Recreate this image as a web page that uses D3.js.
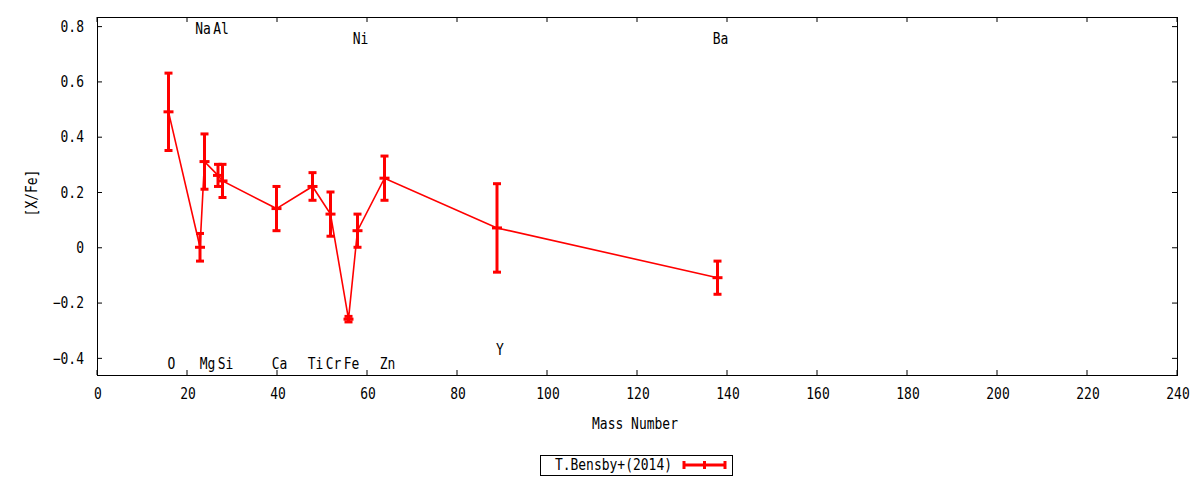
<!DOCTYPE html>
<html>
<head>
<meta charset="utf-8">
<script src="https://cdn.jsdelivr.net/npm/d3@7"></script>
<style>
  html, body { margin: 0; padding: 0; background: #fff; }
  svg text { font-family: "DejaVu Sans Mono", monospace; font-size: 15px; fill: #000; }
</style>
</head>
<body>
<svg id="chart" width="1200" height="480"></svg>
<script>
// ---- data ----
const elements = ["O", "Na", "Mg", "Al", "Si", "Ca", "Ti", "Cr", "Fe", "Ni", "Zn", "Y", "Ba"];
const massNumbers = [16, 23, 24, 27, 28, 40, 48, 52, 56, 58, 64, 89, 138];
const abundances = [0.49, 0.00, 0.31, 0.26, 0.24, 0.14, 0.22, 0.12, -0.26, 0.06, 0.25, 0.07, -0.11];
const errors = [0.14, 0.05, 0.10, 0.04, 0.06, 0.08, 0.05, 0.08, 0.01, 0.06, 0.08, 0.16, 0.06];
const labelY = [-0.42, 0.79, -0.42, 0.79, -0.42, -0.42, -0.42, -0.42, -0.42, 0.755, -0.42, -0.37, 0.755];
const xTicks = [0, 20, 40, 60, 80, 100, 120, 140, 160, 180, 200, 220, 240];
const yTicks = [-0.4, -0.2, 0, 0.2, 0.4, 0.6, 0.8];
const seriesName = "T.Bensby+(2014)";
const xTitle = "Mass Number";
const yTitle = "[X/Fe]";

(function () {
// ---- layout ----
const pL = 97, pR = 1177, pT = 17, pB = 375;
const SX = 0.865; // horizontal squeeze to mimic gnuplot's narrow mono font
const svg = d3.select("#chart");
const x = d3.scaleLinear().domain([0, 240]).range([pL - 0.5, pR - 0.5]);
const y = d3.scaleLinear().domain([-0.462, 0.833]).range([pB, pT]);
const red = "#ff0000";

const fmt = v => (Math.abs(v) < 1e-9 ? "0" : d3.format(".1f")(v));
const place = (sel, fx, fy, rot) => sel
  .attr("x", null).attr("y", null)
  .attr("transform", (d, i) => `translate(${fx(d, i)},${fy(d, i)})${rot ? ` rotate(${rot})` : ""} scale(${SX},1)`);

// axes (ticks inward, mirrored)
const gB = svg.append("g").attr("transform", `translate(0,${pB})`)
  .call(d3.axisBottom(x).tickValues(xTicks).tickSizeInner(-5).tickSizeOuter(0).tickFormat(d3.format("d")))
  .call(g => g.select(".domain").remove());
svg.append("g").attr("transform", `translate(0,${pT})`)
  .call(d3.axisTop(x).tickValues(xTicks).tickSizeInner(-5).tickSizeOuter(0).tickFormat(""))
  .call(g => g.select(".domain").remove());
const gL = svg.append("g").attr("transform", `translate(${pL},0)`)
  .call(d3.axisLeft(y).tickValues(yTicks).tickSizeInner(-5).tickSizeOuter(0).tickFormat(fmt))
  .call(g => g.select(".domain").remove());
svg.append("g").attr("transform", `translate(${pR},0)`)
  .call(d3.axisRight(y).tickValues(yTicks).tickSizeInner(-5).tickSizeOuter(0).tickFormat(""))
  .call(g => g.select(".domain").remove());
svg.selectAll(".tick line").attr("stroke", "#000");
svg.selectAll(".tick text").attr("font-family", null).attr("font-size", null)
  .style("font-family", "'DejaVu Sans Mono', monospace").style("font-size", "15px").attr("dy", "0.35em");
gB.selectAll(".tick text").call(place, () => 1, () => 19);
gL.selectAll(".tick text").call(place, () => -13, () => 0);
svg.selectAll(".tick").attr("font-family", null);
gB.attr("font-family", null).attr("font-size", null);
gL.attr("font-family", null).attr("font-size", null);

svg.append("rect").attr("x", pL + 0.5).attr("y", pT + 0.5)
  .attr("width", pR - pL).attr("height", pB - pT)
  .attr("fill", "none").attr("stroke", "#000").attr("stroke-width", 1);

// element labels
svg.append("g").selectAll("text").data(elements).join("text")
  .attr("dy", "0.35em")
  .attr("text-anchor", "middle")
  .text(d => d)
  .call(place, (d, i) => x(massNumbers[i]) + 3, (d, i) => y(labelY[i]));

// data
const pts = massNumbers.map((m, i) => ({ m, v: abundances[i], e: errors[i] }));
svg.append("path").datum(pts)
  .attr("fill", "none").attr("stroke", red).attr("stroke-width", 1.6)
  .attr("d", d3.line().x(d => x(d.m)).y(d => y(d.v)));

const eb = svg.append("g").attr("stroke", red).attr("stroke-width", 3);
eb.selectAll(".bar").data(pts).join("line").attr("class", "bar")
  .attr("x1", d => x(d.m)).attr("x2", d => x(d.m))
  .attr("y1", d => y(d.v + d.e)).attr("y2", d => y(d.v - d.e));
eb.selectAll(".capT").data(pts).join("line").attr("class", "capT")
  .attr("x1", d => x(d.m) - 4).attr("x2", d => x(d.m) + 4)
  .attr("y1", d => y(d.v + d.e)).attr("y2", d => y(d.v + d.e));
eb.selectAll(".capB").data(pts).join("line").attr("class", "capB")
  .attr("x1", d => x(d.m) - 4).attr("x2", d => x(d.m) + 4)
  .attr("y1", d => y(d.v - d.e)).attr("y2", d => y(d.v - d.e));
eb.selectAll(".mid").data(pts).join("line").attr("class", "mid")
  .attr("x1", d => x(d.m) - 5).attr("x2", d => x(d.m) + 5)
  .attr("y1", d => y(d.v)).attr("y2", d => y(d.v));

// titles
svg.append("text").datum(xTitle).attr("dy", "0.35em")
  .attr("text-anchor", "middle").text(d => d)
  .call(place, () => (pL + pR) / 2 - 2, () => 424);
svg.append("text").datum(yTitle).attr("dy", "0.35em")
  .attr("text-anchor", "middle").text(d => d)
  .call(place, () => 32, () => 193, -90);

// legend
const lg = svg.append("g");
lg.append("rect").attr("x", 540.5).attr("y", 455.5).attr("width", 192).attr("height", 20)
  .attr("fill", "none").attr("stroke", "#000");
lg.append("text").datum(seriesName).attr("dy", "0.35em").attr("text-anchor", "end").text(d => d)
  .call(place, () => 672, () => 465);
const lx1 = 683, lx2 = 726, ly = 465;
lg.append("line").attr("x1", lx1).attr("x2", lx2).attr("y1", ly).attr("y2", ly).attr("stroke", red).attr("stroke-width", 3);
[lx1 + 1, (lx1 + lx2) / 2, lx2 - 1].forEach(px => {
  lg.append("line").attr("x1", px).attr("x2", px).attr("y1", ly - 4).attr("y2", ly + 4).attr("stroke", red).attr("stroke-width", 3);
});
})();
</script>
</body>
</html>
